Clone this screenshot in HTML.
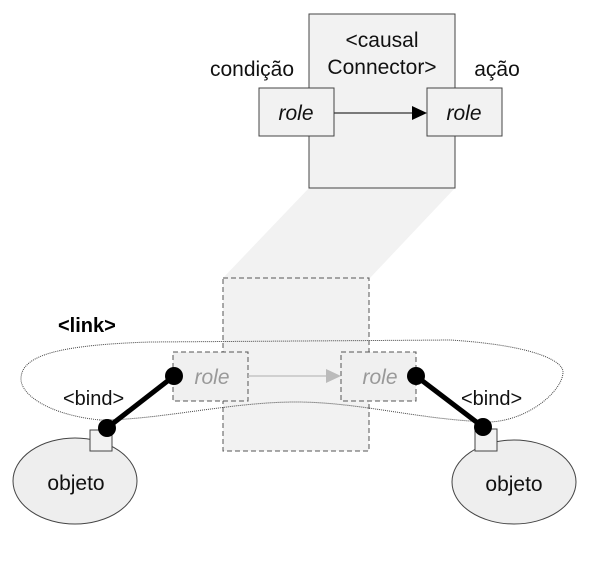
<!DOCTYPE html>
<html><head><meta charset="utf-8"><style>body{margin:0;background:#fff}svg{display:block}</style></head><body>
<svg width="592" height="561" viewBox="0 0 592 561" xmlns="http://www.w3.org/2000/svg" font-family="Liberation Sans, sans-serif">
<polygon points="309,188 455,188 370,278 223,278" fill="#f2f2f2"/>
<rect x="223" y="278" width="146" height="173" fill="#f2f2f2" stroke="#555" stroke-dasharray="5,3"/>
<rect x="309" y="14" width="146" height="174" fill="#f2f2f2" stroke="#444"/>
<text x="382" y="47" font-size="21" text-anchor="middle" fill="#111">&lt;causal</text>
<text x="382" y="74" font-size="21" text-anchor="middle" fill="#111">Connector&gt;</text>
<text x="252" y="76" font-size="21" text-anchor="middle" fill="#111">condição</text>
<text x="497" y="76" font-size="21" text-anchor="middle" fill="#111">ação</text>
<rect x="259" y="88" width="75" height="48" fill="#f2f2f2" stroke="#444"/>
<rect x="427" y="88" width="75" height="48" fill="#f2f2f2" stroke="#444"/>
<text x="296" y="120" font-size="21" font-style="italic" text-anchor="middle" fill="#111">role</text>
<text x="464" y="120" font-size="21" font-style="italic" text-anchor="middle" fill="#111">role</text>
<line x1="334" y1="113" x2="414" y2="113" stroke="#333" stroke-width="1.2"/>
<polygon points="427,113 412,106 412,120" fill="#000"/>
<path d="M100,420 C50,415 20,395 21,378 C22,355 60,345 150,342 L450,340 C530,345 563,360 563,372 C563,390 530,420 490,422 C420,420 360,402 296,402 C230,402 160,420 100,420 Z" fill="none" stroke="#444" stroke-dasharray="1,1" stroke-width="1"/>
<rect x="173" y="352" width="75" height="49" fill="#f0f0f0" stroke="#555" stroke-dasharray="5,3"/>
<rect x="341" y="352" width="75" height="49" fill="#f0f0f0" stroke="#555" stroke-dasharray="5,3"/>
<text x="212" y="384" font-size="21" font-style="italic" text-anchor="middle" fill="#999">role</text>
<text x="380" y="384" font-size="21" font-style="italic" text-anchor="middle" fill="#999">role</text>
<line x1="248" y1="376" x2="328" y2="376" stroke="#bbb" stroke-width="1.2"/>
<polygon points="341,376 326,369 326,383" fill="#bbb"/>
<text x="58" y="332" font-size="20" font-weight="bold" fill="#000">&lt;link&gt;</text>
<text x="63" y="405" font-size="20" fill="#111">&lt;bind&gt;</text>
<text x="461" y="405" font-size="20" fill="#111">&lt;bind&gt;</text>
<ellipse cx="75" cy="481" rx="62" ry="43" fill="#eee" stroke="#444"/>
<ellipse cx="514" cy="482" rx="62" ry="42" fill="#eee" stroke="#444"/>
<rect x="90" y="430" width="22" height="21" fill="#f2f2f2" stroke="#444"/>
<rect x="475" y="429" width="22" height="22" fill="#f2f2f2" stroke="#444"/>
<text x="76" y="490" font-size="21" text-anchor="middle" fill="#111">objeto</text>
<text x="514" y="491" font-size="21" text-anchor="middle" fill="#111">objeto</text>
<line x1="174" y1="376" x2="107" y2="428" stroke="#000" stroke-width="5"/>
<line x1="416" y1="376" x2="483" y2="427" stroke="#000" stroke-width="5"/>
<circle cx="174" cy="376" r="9" fill="#000"/>
<circle cx="107" cy="428" r="9" fill="#000"/>
<circle cx="416" cy="376" r="9" fill="#000"/>
<circle cx="483" cy="427" r="9" fill="#000"/>
</svg>
</body></html>
